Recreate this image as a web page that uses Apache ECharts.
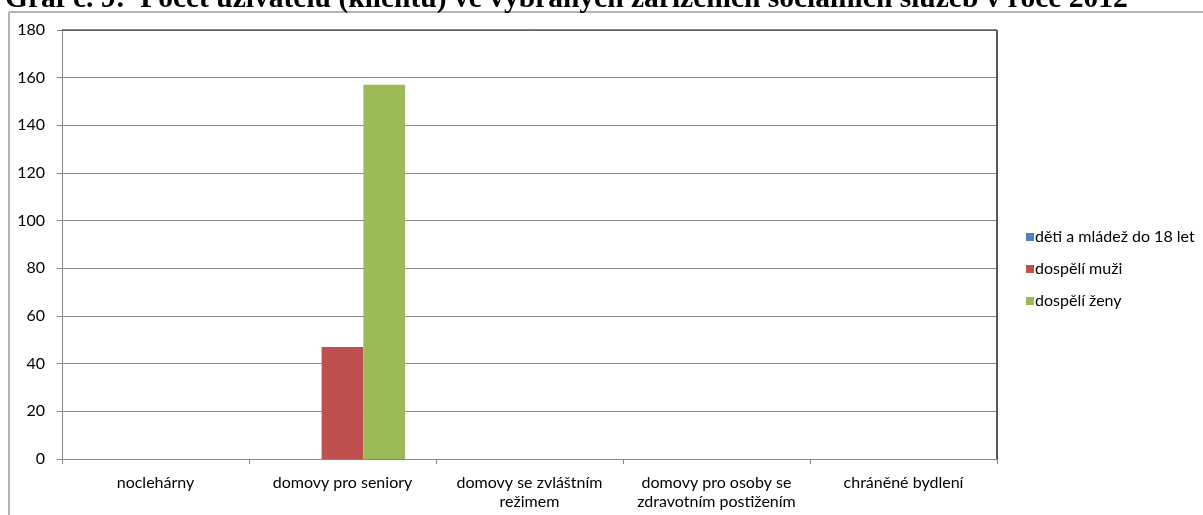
<!DOCTYPE html>
<html><head><meta charset="utf-8">
<script src="https://cdn.jsdelivr.net/npm/echarts@6/dist/echarts.min.js"></script>
<style>html,body{margin:0;padding:0;background:#fff;}#c{width:1203px;height:515px;}</style>
</head><body><div id="c"></div>
<script>
const titleText = 'Graf č. 9:  Počet uživatelů (klientů) ve vybraných zařízeních sociálních služeb v roce 2012';
const categories = ['noclehárny', 'domovy pro seniory', 'domovy se zvláštním\nrežimem', 'domovy pro osoby se\nzdravotním postižením', 'chráněné bydlení'];
const seriesNames = ['děti a mládež do 18 let', 'dospělí muži', 'dospělí ženy'];
const deti = [0, 0, 0, 0, 0];
const muzi = [0, 47, 0, 0, 0];
const zeny = [0, 157, 0, 0, 0];
const colors = ['#4f81bd', '#c0504d', '#9bbb59'];
const yMin = 0, yMax = 180, yStep = 20;

const chart = echarts.init(document.getElementById('c'), null, {renderer: 'canvas'});
const font = 'Lato, "Open Sans", sans-serif';
const allData = [deti, muzi, zeny];
chart.setOption({
  animation: false,
  color: colors,
  title: {
    text: titleText, left: 0, top: -21,
    textStyle: {fontFamily: '"Liberation Serif", serif', fontWeight: 'bold', fontSize: 29.5, color: '#000'}
  },
  graphic: [
    {type: 'line', shape: {x1: 9, y1: 12, x2: 1203, y2: 12}, style: {stroke: '#b3b3b3', lineWidth: 2}},
    {type: 'line', shape: {x1: 9, y1: 12, x2: 9, y2: 515}, style: {stroke: '#b3b3b3', lineWidth: 2}},
    {type: 'line', shape: {x1: 62, y1: 30, x2: 997, y2: 30}, style: {stroke: '#595959', lineWidth: 1.5}, z: 10},
    {type: 'line', shape: {x1: 997, y1: 30, x2: 997, y2: 459}, style: {stroke: '#595959', lineWidth: 2}, z: 10}
  ],
  legend: {
    orient: 'vertical', left: 1021, top: 224, itemGap: 16,
    itemWidth: 8, itemHeight: 8, icon: 'rect',
    textStyle: {fontFamily: font, fontSize: 16, color: '#000', padding: [0,0,0,-4]},
    data: seriesNames
  },
  grid: {left: 62, top: 30, width: 935, height: 429, containLabel: false},
  xAxis: {
    type: 'category', data: categories,
    axisLine: {lineStyle: {color: '#868686', width: 1}},
    axisTick: {show: true, length: 5, lineStyle: {color: '#868686'}},
    axisLabel: {fontFamily: font, fontSize: 16, color: '#000', margin: 14, lineHeight: 19, interval: 0}
  },
  yAxis: {
    type: 'value', min: yMin, max: yMax, interval: yStep,
    axisLine: {show: true, lineStyle: {color: '#868686'}},
    axisTick: {show: true, length: 5, lineStyle: {color: '#868686'}},
    splitLine: {lineStyle: {color: '#868686', width: 1}},
    axisLabel: {fontFamily: font, fontSize: 16, color: '#000', margin: 17}
  },
  series: seriesNames.map((n, i) => ({
    name: n, type: 'bar', data: allData[i],
    barGap: '0%', barCategoryGap: '33%'
  }))
});
</script></body></html>
